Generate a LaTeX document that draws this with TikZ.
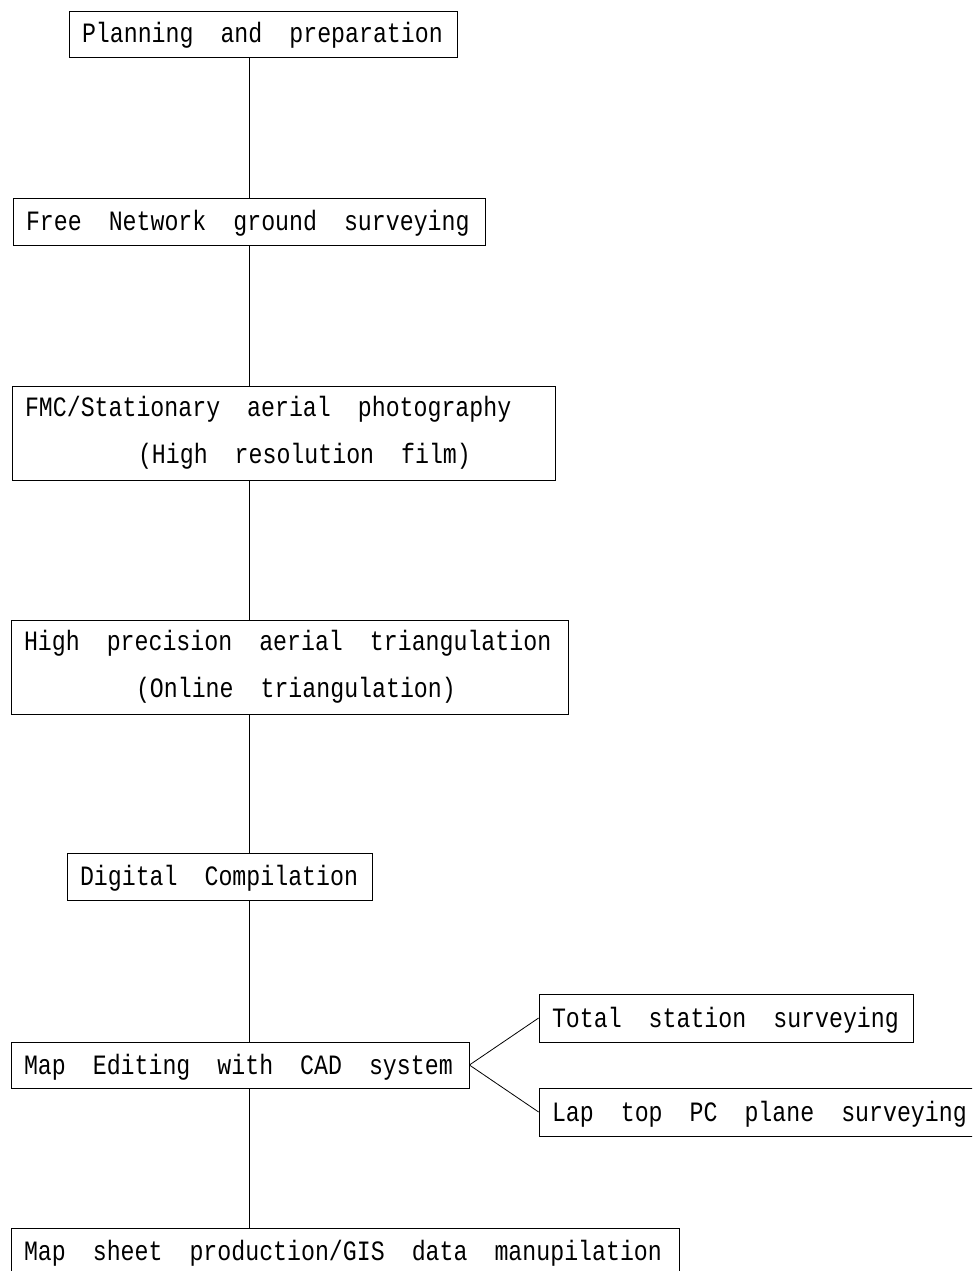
\documentclass[tikz,border=0pt]{standalone}
\usepackage{fontspec}
\newfontfamily\boxfont[FakeStretch=0.83]{Liberation Mono}
\newcommand\wg{\nobreak\hspace{27pt}\nobreak}
\begin{document}
\begin{tikzpicture}[x=1pt,y=-1pt,
  box/.style={draw=black, line width=0.8pt, inner ysep=0pt, inner xsep=13pt,
    font=\boxfont\fontsize{28}{47}\selectfont, align=left},
  oneline/.style={box, text height=20pt, text depth=2pt},
  link/.style={draw=black, line width=0.8pt}]
\useasboundingbox (0,0) rectangle (972,1271);
\clip (0,0) rectangle (972,1271);
\coordinate (spine) at (249,0);

\node[oneline, minimum width=388pt, minimum height=46pt, text width=362pt] (b1) at (263,34)
  {Planning\wg and\wg preparation};
\node[oneline, minimum width=472pt, minimum height=47pt, text width=446pt] (b2) at (249,221.5)
  {Free\wg Network\wg ground\wg surveying};
\node[box, minimum width=543pt, minimum height=94pt, text width=517pt] (b3) at (283.5,433)
  {FMC/Stationary\wg aerial\wg photography\\\hspace*{113pt}(High\wg resolution\wg film)};
\node[box, minimum width=557pt, minimum height=94pt, text width=531pt] (b4) at (289.5,667)
  {High\wg precision\wg aerial\wg triangulation\\\hspace*{112pt}(Online\wg triangulation)};
\node[oneline, minimum width=305pt, minimum height=47pt, text width=279pt] (b5) at (219.5,876.5)
  {Digital\wg Compilation};
\node[oneline, minimum width=458pt, minimum height=46pt, text width=432pt] (b6) at (240,1065)
  {Map\wg Editing\wg with\wg CAD\wg system};
\node[oneline, minimum width=374pt, minimum height=48pt, text width=348pt] (b7) at (726,1018)
  {Total\wg station\wg surveying};
\node[oneline, minimum width=447pt, minimum height=48pt, text width=421pt] (b8) at (762.5,1112)
  {Lap\wg top\wg PC\wg plane\wg surveying};
\node[oneline, minimum width=668pt, minimum height=47pt, text width=642pt] (b9) at (345,1251.5)
  {Map\wg sheet\wg production/GIS\wg data\wg manupilation};

\draw[link] (b1.south -| spine) -- (b2.north -| spine);
\draw[link] (b2.south -| spine) -- (b3.north -| spine);
\draw[link] (b3.south -| spine) -- (b4.north -| spine);
\draw[link] (b4.south -| spine) -- (b5.north -| spine);
\draw[link] (b5.south -| spine) -- (b6.north -| spine);
\draw[link] (b6.south -| spine) -- (b9.north -| spine);
\draw[link] (b6.east) -- (b7.west);
\draw[link] (b6.east) -- (b8.west);
\end{tikzpicture}
\end{document}
